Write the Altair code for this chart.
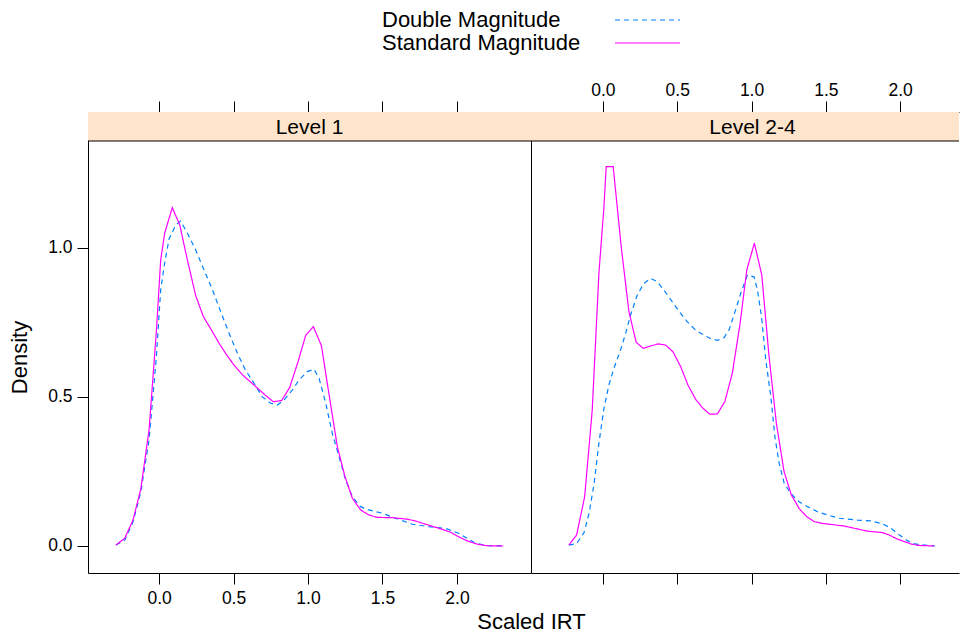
import altair as alt
import pandas as pd

SERIES = ["Double Magnitude", "Standard Magnitude"]
COLORS = ["#0080ff", "#ff00ff"]
DASHES = [[5, 4], [1, 0]]
PANELS = ["Level 1", "Level 2-4"]
X_TICKS = [0.0, 0.5, 1.0, 1.5, 2.0]
Y_TICKS = [0.0, 0.5, 1.0]

# Level 1
l1_std_x = [-0.29, -0.23, -0.175, -0.123, -0.067, -0.018, 0.011, 0.038, 0.089, 0.139,
            0.19, 0.246, 0.297, 0.351, 0.403, 0.454, 0.503, 0.56, 0.649, 0.711, 0.767,
            0.823, 0.877, 0.933, 0.984, 1.036, 1.09, 1.14, 1.197, 1.248, 1.298, 1.353,
            1.409, 1.465, 1.566, 1.667, 1.72, 1.79, 1.90, 1.957, 2.01, 2.07, 2.136, 2.20, 2.31]
l1_std_y = [0.003, 0.026, 0.087, 0.19, 0.39, 0.72, 0.96, 1.05, 1.135, 1.077,
            0.96, 0.84, 0.77, 0.725, 0.68, 0.641, 0.607, 0.574, 0.535, 0.507, 0.484,
            0.488, 0.532, 0.618, 0.706, 0.736, 0.672, 0.512, 0.333, 0.233, 0.16, 0.121,
            0.104, 0.096, 0.095, 0.09, 0.084, 0.073, 0.056, 0.046, 0.031, 0.017, 0.006, 0.001, 0.0]

l1_dbl_x = [-0.29, -0.23, -0.175, -0.123, -0.067, -0.018, 0.011, 0.038, 0.067, 0.112,
            0.145, 0.19, 0.246, 0.302, 0.358, 0.414, 0.47, 0.526, 0.58, 0.638, 0.693,
            0.75, 0.794, 0.839, 0.895, 0.94, 0.995, 1.04, 1.074, 1.119, 1.163, 1.208,
            1.253, 1.298, 1.353, 1.409, 1.499, 1.588, 1.70, 1.81, 1.924, 2.01, 2.125, 2.21, 2.31]
l1_dbl_y = [0.003, 0.02, 0.08, 0.18, 0.356, 0.635, 0.86, 0.95, 1.03, 1.077,
            1.09, 1.05, 0.993, 0.926, 0.86, 0.786, 0.714, 0.647, 0.59, 0.546, 0.50,
            0.479, 0.473, 0.49, 0.523, 0.557, 0.585, 0.593, 0.563, 0.479, 0.378, 0.30,
            0.221, 0.165, 0.132, 0.121, 0.11, 0.093, 0.073, 0.065, 0.059, 0.043, 0.009, 0.001, 0.0]

# Level 2-4
l24_std_x = [-0.229, -0.177, -0.123, -0.072, -0.027, 0.007, 0.022, 0.069, 0.123, 0.175,
             0.224, 0.272, 0.321, 0.372, 0.422, 0.471, 0.523, 0.572, 0.624, 0.673, 0.72,
             0.77, 0.82, 0.871, 0.923, 0.968, 1.019, 1.069, 1.118, 1.167, 1.219, 1.268,
             1.32, 1.372, 1.421, 1.473, 1.623, 1.724, 1.776, 1.881, 1.926, 1.982, 2.072, 2.117, 2.229]
l24_std_y = [0.003, 0.037, 0.165, 0.456, 0.915, 1.139, 1.273, 1.273, 1.004, 0.786,
             0.683, 0.663, 0.671, 0.678, 0.674, 0.652, 0.602, 0.54, 0.492, 0.462, 0.442,
             0.443, 0.484, 0.58, 0.747, 0.926, 1.016, 0.909, 0.635, 0.412, 0.249, 0.171,
             0.126, 0.098, 0.082, 0.076, 0.067, 0.056, 0.05, 0.045, 0.037, 0.023, 0.007, 0.002, 0.0]

l24_dbl_x = [-0.229, -0.177, -0.127, -0.093, -0.059, -0.027, 0.007, 0.04, 0.074, 0.119,
             0.153, 0.186, 0.231, 0.276, 0.321, 0.366, 0.411, 0.467, 0.523, 0.568, 0.624,
             0.68, 0.724, 0.77, 0.815, 0.848, 0.882, 0.927, 0.972, 1.017, 1.04, 1.067,
             1.096, 1.13, 1.157, 1.186, 1.22, 1.265, 1.32, 1.377, 1.444, 1.512, 1.59, 1.714,
             1.804, 1.883, 1.939, 1.995, 2.051, 2.107, 2.235]
l24_dbl_y = [0.003, 0.008, 0.045, 0.11, 0.211, 0.345, 0.462, 0.54, 0.596, 0.658,
             0.714, 0.775, 0.842, 0.881, 0.898, 0.886, 0.858, 0.819, 0.78, 0.752, 0.724,
             0.707, 0.696, 0.69, 0.699, 0.724, 0.775, 0.847, 0.909, 0.903, 0.858, 0.77,
             0.624, 0.501, 0.367, 0.277, 0.21, 0.176, 0.148, 0.132, 0.115, 0.104, 0.093, 0.087,
             0.084, 0.074, 0.059, 0.037, 0.017, 0.006, 0.0]

FONT = "Liberation Sans"
W_L = 443
W_R = 428
H = 461
STRIP_H = 29
Y_DOMAIN = [-0.0906, 1.456]
X_DOMAIN_L = [-0.477, 2.497]
X_DOMAIN_R = [-0.484, 2.396]


def frame(xs, ys, series):
    return pd.DataFrame({"x": xs, "density": ys, "series": series})


color_scale = alt.Scale(domain=SERIES, range=COLORS)
dash_scale = alt.Scale(domain=SERIES, range=DASHES)


def panel(name, dbl, std, xdom, width, left):
    strip_df = pd.DataFrame({"panel": [name]})
    strip_bg = alt.Chart(strip_df).mark_rect(fill="#ffe5cc").encode(
        x=alt.value(0), x2=alt.value(width), y=alt.value(0), y2=alt.value(STRIP_H))
    strip_line = alt.Chart(strip_df).mark_rule(color="black", strokeWidth=1).encode(
        x=alt.value(0), x2=alt.value(width), y=alt.value(STRIP_H))
    strip_txt = alt.Chart(strip_df).mark_text(font=FONT, fontSize=21, color="black",
                                              baseline="middle").encode(
        text="panel:N", x=alt.value(W_L / 2), y=alt.value(STRIP_H / 2 + 1))

    xs = alt.Scale(domain=xdom, nice=False, zero=False)
    ys = alt.Scale(domain=Y_DOMAIN, nice=False, zero=False)

    top_axis = alt.Axis(orient="top", values=X_TICKS, format=".1f", labels=not left,
                        labelPadding=2, title=None, grid=False)
    if left:
        bottom_axis = alt.Axis(orient="bottom", values=X_TICKS, format=".1f",
                               title="Scaled IRT", titleX=W_L, titlePadding=5, grid=False)
        y_axis = alt.Axis(orient="left", values=Y_TICKS, format=".1f", title="Density",
                          titleY=(H + STRIP_H) / 2, titlePadding=16, grid=False)
    else:
        bottom_axis = alt.Axis(orient="bottom", values=X_TICKS, labels=False,
                               title=None, grid=False)
        y_axis = alt.Axis(orient="left", values=Y_TICKS, labels=False, ticks=False,
                          title=None, grid=False)

    dbl_line = alt.Chart(dbl).mark_line(strokeWidth=1.2, clip=True).encode(
        x=alt.X("x:Q", scale=xs, axis=top_axis),
        y=alt.Y("density:Q", scale=ys, axis=y_axis),
        color=alt.Color("series:N", scale=color_scale, legend=None),
        strokeDash=alt.StrokeDash("series:N", scale=dash_scale, legend=None),
        order="x:Q",
    )
    std_line = alt.Chart(std).mark_line(strokeWidth=1.2, clip=True).encode(
        x=alt.X("x:Q", scale=xs, axis=bottom_axis),
        y=alt.Y("density:Q", scale=ys),
        color=alt.Color("series:N", scale=color_scale, legend=None),
        strokeDash=alt.StrokeDash("series:N", scale=dash_scale, legend=None),
        order="x:Q",
    )
    return alt.layer(strip_bg, strip_line, strip_txt, dbl_line, std_line).properties(
        width=width, height=H).resolve_axis(x="independent")


left_panel = panel(PANELS[0], frame(l1_dbl_x, l1_dbl_y, SERIES[0]),
                   frame(l1_std_x, l1_std_y, SERIES[1]), X_DOMAIN_L, W_L, True)
right_panel = panel(PANELS[1], frame(l24_dbl_x, l24_dbl_y, SERIES[0]),
                    frame(l24_std_x, l24_std_y, SERIES[1]), X_DOMAIN_R, W_R, False)

panels = alt.hconcat(left_panel, right_panel, spacing=0, bounds="flush")

legend_df = pd.DataFrame({"series": SERIES})
LEG_Y = [12, 35]
leg_layers = []
for i, s in enumerate(SERIES):
    base = alt.Chart(legend_df).transform_filter(alt.datum.series == s)
    leg_layers.append(base.mark_text(font=FONT, fontSize=22, align="left",
                                     baseline="middle", color="black").encode(
        text="series:N", x=alt.value(294), y=alt.value(LEG_Y[i])))
    leg_layers.append(base.mark_rule(strokeWidth=1.2).encode(
        x=alt.value(527), x2=alt.value(592), y=alt.value(LEG_Y[i]),
        color=alt.Color("series:N", scale=color_scale, legend=None),
        strokeDash=alt.StrokeDash("series:N", scale=dash_scale, legend=None)))
legend = alt.layer(*leg_layers).properties(width=W_L + W_R, height=50)

chart = alt.vconcat(legend, panels, spacing=54, bounds="flush").properties(
    padding=0, background="white"
).configure_view(stroke=None).configure_axis(
    domainColor="black", domainWidth=1, tickColor="black", tickWidth=1, tickSize=11,
    labelColor="black", labelFont=FONT, labelFontSize=17.5, labelPadding=5,
    titleColor="black", titleFont=FONT, titleFontSize=22, titleFontWeight="normal",
)

chart.save("out.html", embed_options={"renderer": "svg", "actions": False})
